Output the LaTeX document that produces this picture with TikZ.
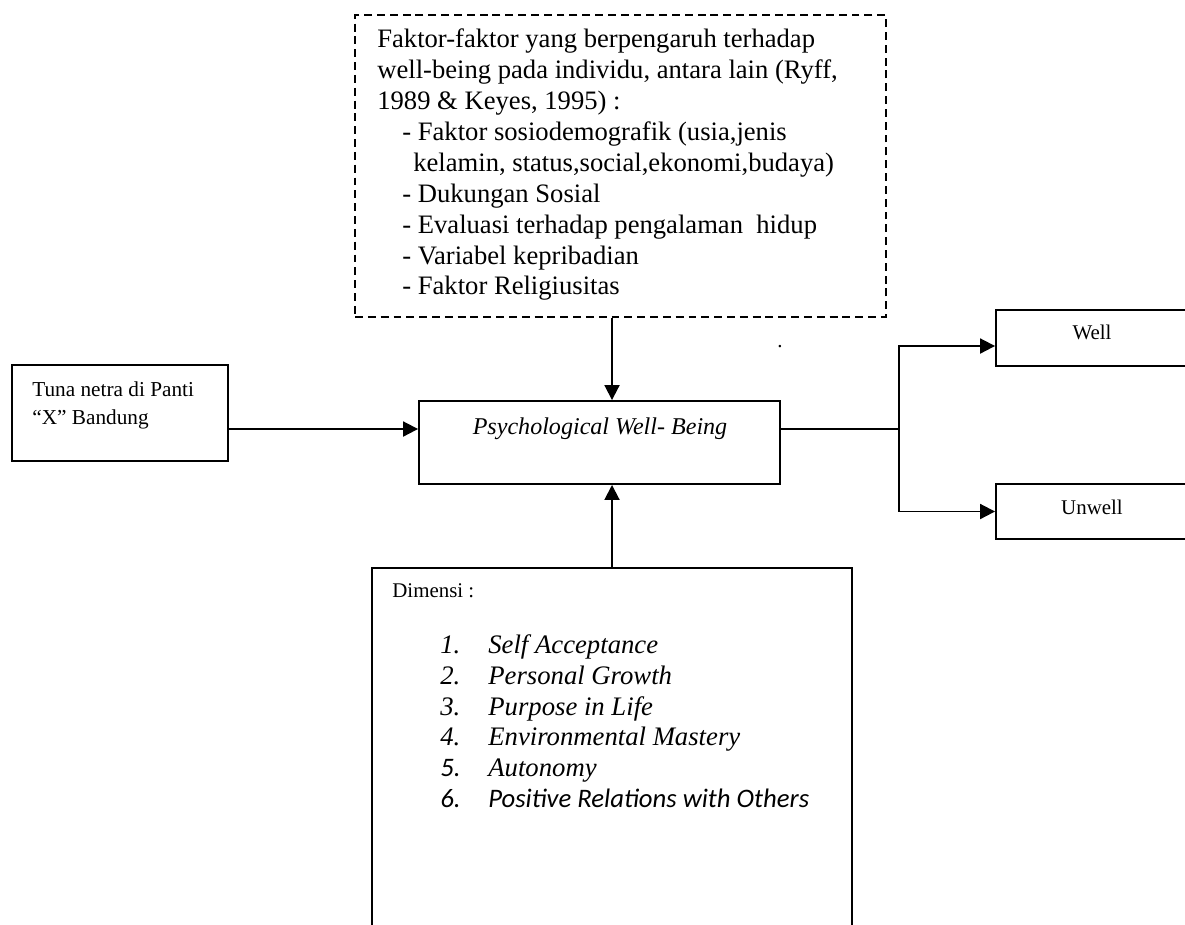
\documentclass[tikz,border=0pt]{standalone}
\usepackage{fontspec}
\setmainfont{Liberation Serif}
\newfontfamily\calibri{Carlito}
\usepackage{tikz}
\usetikzlibrary{arrows.meta,positioning,calc}

\begin{document}
\begin{tikzpicture}[x=0.02cm,y=-0.02cm,>={Triangle[length=0.3cm,width=0.3cm]},
  box/.style={draw,line width=1.1pt,inner sep=0pt},
  txt/.style={inner sep=0pt,align=left},
  arr/.style={->,line width=1.1pt}]
  \useasboundingbox (0,0) rectangle (1185,924);
  % boxes
  \node[box,dash pattern=on 4.5pt off 2.8pt,line width=0.85pt,minimum width=10.62cm,minimum height=6.04cm] (faktor) at (620.5,166) {};
  \node[box,minimum width=4.32cm,minimum height=1.92cm] (tuna) at (120,413) {};
  \node[box,minimum width=7.22cm,minimum height=1.66cm] (pwb) at (599.5,442.5) {};
  \node[box,minimum width=3.88cm,minimum height=1.12cm] (well) at (1093,338) {};
  \node[box,minimum width=3.88cm,minimum height=1.10cm] (unwell) at (1093,511.5) {};
  \node[box,minimum width=9.6cm,minimum height=7.34cm] (dim) at (612,751.5) {};
  % texts
  \node[txt,anchor=north west,font=\fontsize{15.15}{17.6}\selectfont] (faktortext) at (377,28.5)
    {Faktor-faktor yang berpengaruh terhadap\\
     well-being pada individu, antara lain (Ryff,\\
     1989 \& Keyes, 1995) :\\
     \hspace*{0.5cm}- Faktor sosiodemografik (usia,jenis\\
     \hspace*{0.72cm}kelamin, status,social,ekonomi,budaya)\\
     \hspace*{0.5cm}- Dukungan Sosial\\
     \hspace*{0.5cm}- Evaluasi terhadap pengalaman\ \ hidup\\
     \hspace*{0.5cm}- Variabel kepribadian\\
     \hspace*{0.5cm}- Faktor Religiusitas};
  \node[txt,anchor=north west,font=\fontsize{12.1}{15.9}\selectfont] (tunatext) at (32,381)
    {Tuna netra di Panti\\“X” Bandung};
  \node[txt,anchor=base,font=\fontsize{13.7}{16}\selectfont\itshape] (pwbtext) at (600,434) {Psychological Well- Being};
  \node[txt,anchor=base,font=\fontsize{11.9}{14}\selectfont] (welltext) at (1092,339) {Well};
  \node[txt,anchor=base,font=\fontsize{11.9}{14}\selectfont] (unwelltext) at (1092,514) {Unwell};
  \node[txt,anchor=base,font=\fontsize{11.9}{14}\selectfont] (dot) at (780,347) {.};
  \node[txt,anchor=base west,font=\fontsize{11.9}{14}\selectfont] (dimtext) at (392,597) {Dimensi :};
  \node[txt,anchor=north west,font=\fontsize{15.2}{17.5}\selectfont\itshape] (dimlist) at (440,634.5)
    {\makebox[0.96cm][l]{1.}Self Acceptance\\
     \makebox[0.96cm][l]{2.}Personal Growth\\
     \makebox[0.96cm][l]{3.}Purpose in Life\\
     \makebox[0.96cm][l]{4.}Environmental Mastery\\
     \makebox[0.96cm][l]{\calibri 5.}Autonomy\\
     \makebox[0.96cm][l]{\calibri 6.}{\calibri Positive Relations with Others}};
  % connectors
  \coordinate (axis) at (612,0);
  \coordinate (lvl) at (0,429);
  \coordinate (fork) at (899,429);
  \draw[arr] (faktor.south -| axis) -- (pwb.north -| axis);
  \draw[arr] (dim.north -| axis) -- (pwb.south -| axis);
  \draw[arr] (tuna.east |- lvl) -- (pwb.west |- lvl);
  \draw[line width=0.75pt] (pwb.east |- lvl) -- (fork);
  \draw[arr] (fork) |- ([yshift=-0.16cm]well.west);
  \draw[arr] (fork) |- (unwell.west);
\end{tikzpicture}
\end{document}
